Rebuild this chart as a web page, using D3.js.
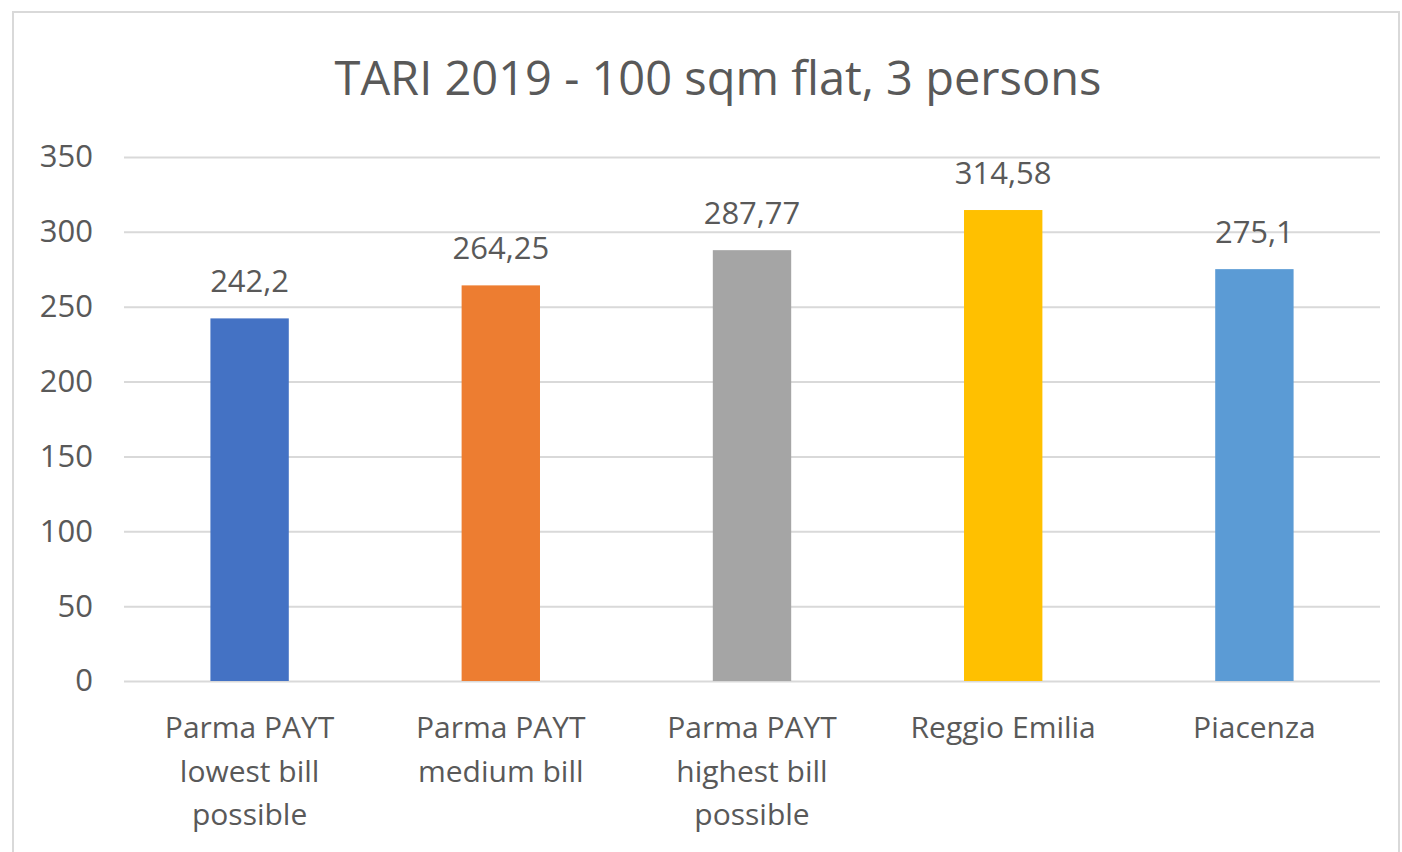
<!DOCTYPE html>
<html>
<head>
<meta charset="utf-8">
<script src="https://cdnjs.cloudflare.com/ajax/libs/d3/7.8.5/d3.min.js"></script>
<style>
  body { margin: 0; background: #fff; }
  text { font-family: "Open Sans", "Noto Sans", sans-serif; fill: #595959; }
</style>
</head>
<body>
<svg id="chart" width="1402" height="852"></svg>
<script>
// data
var categories = [
  ["Parma PAYT", "lowest bill", "possible"],
  ["Parma PAYT", "medium bill"],
  ["Parma PAYT", "highest bill", "possible"],
  ["Reggio Emilia"],
  ["Piacenza"]
];
var values = [242.2, 264.25, 287.77, 314.58, 275.1];
var valueLabels = ["242,2", "264,25", "287,77", "314,58", "275,1"];
var colors = ["#4472C4", "#ED7D31", "#A5A5A5", "#FFC000", "#5B9BD5"];
var yTicks = [0, 50, 100, 150, 200, 250, 300, 350];
var title = "TARI 2019 - 100 sqm flat, 3 persons";

var svg = d3.select("#chart");
var margin = {top: 157, left: 124, right: 22, bottom: 171};
var w = 1402 - margin.left - margin.right;
var h = 852 - margin.top - margin.bottom;

// chart frame
svg.append("rect")
  .attr("x", 13).attr("y", 12)
  .attr("width", 1386).attr("height", 860)
  .attr("fill", "none")
  .attr("stroke", "#d9d9d9")
  .attr("stroke-width", 2);

svg.append("text")
  .attr("x", 718).attr("y", 95)
  .attr("text-anchor", "middle")
  .style("font-size", "47px")
  .text(title);

var g = svg.append("g")
  .attr("transform", "translate(" + margin.left + "," + margin.top + ")");

var x = d3.scaleBand()
  .domain(d3.range(values.length))
  .range([0, w])
  .paddingInner(0.688)
  .paddingOuter(0.344);

var y = d3.scaleLinear()
  .domain([0, 350])
  .range([h, 0]);

// gridlines
var yAxis = d3.axisLeft(y)
  .tickValues(yTicks)
  .tickSize(-w)
  .tickPadding(31);

var ya = g.append("g").call(yAxis);
ya.select(".domain").remove();
ya.selectAll(".tick line").attr("stroke", "#d9d9d9").attr("stroke-width", 2);
ya.selectAll(".tick text")
  .style("font-size", "31px")
  .style("font-family", "'Open Sans', sans-serif")
  .attr("fill", "#595959");

// bars
g.selectAll(".bar")
  .data(values)
  .enter().append("rect")
  .attr("class", "bar")
  .attr("x", function(d, i) { return x(i); })
  .attr("y", function(d) { return y(d); })
  .attr("width", x.bandwidth())
  .attr("height", function(d) { return h - y(d); })
  .attr("fill", function(d, i) { return colors[i]; });

// value labels
g.selectAll(".vlabel")
  .data(values)
  .enter().append("text")
  .attr("class", "vlabel")
  .attr("x", function(d, i) { return x(i) + x.bandwidth() / 2; })
  .attr("y", function(d) { return y(d) - 26; })
  .attr("text-anchor", "middle")
  .style("font-size", "31px")
  .text(function(d, i) { return valueLabels[i]; });

// category labels
var cat = g.selectAll(".cat")
  .data(categories)
  .enter().append("text")
  .attr("class", "cat")
  .attr("text-anchor", "middle")
  .attr("transform", function(d, i) {
    return "translate(" + (x(i) + x.bandwidth() / 2) + "," + (h + 57) + ")";
  })
  .style("font-size", "30px");

cat.selectAll("tspan")
  .data(function(d) { return d; })
  .enter().append("tspan")
  .attr("x", 0)
  .attr("y", function(d, i) { return i * 43.5; })
  .text(function(d) { return d; });
</script>
</body>
</html>
